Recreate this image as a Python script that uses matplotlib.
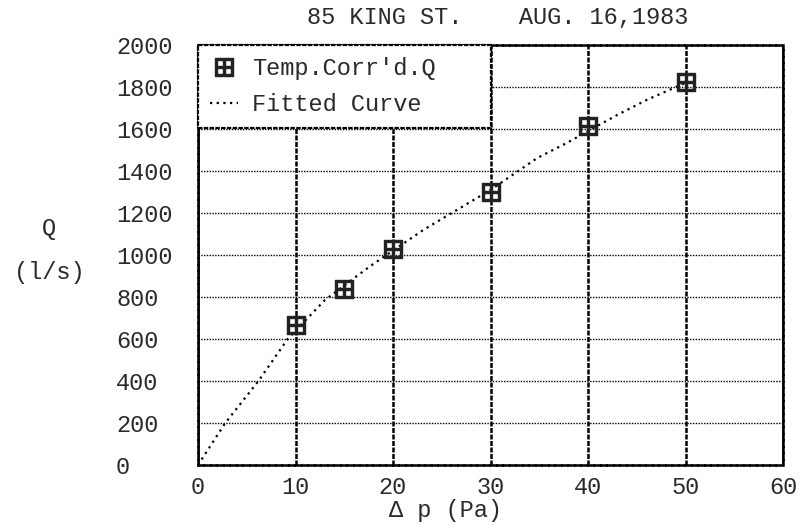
import numpy as np
import matplotlib
matplotlib.use("Agg")
import matplotlib.pyplot as plt

# data
dp_meas = [10, 15, 20, 30, 40, 50]
q_meas = [667, 840, 1030, 1300, 1612, 1824]

dp_fit = [0, 2.8, 6.2, 9.2, 13, 17.6, 23.1, 30, 34.8, 37.8, 43, 46, 50]
q_fit = [0, 200, 400, 600, 785, 945, 1119, 1310, 1462, 1533, 1667, 1738, 1820]

x_ticks = [0, 10, 20, 30, 40, 50, 60]
y_ticks = [0, 200, 400, 600, 800, 1000, 1200, 1400, 1600, 1800, 2000]

title_txt = "85 KING ST.    AUG. 16,1983"
ink = "#2a2a2a"
fnt = "Liberation Mono"
fs = 17

plt.rcParams["font.family"] = [fnt, "DejaVu Sans Mono"]

W, H = 806, 525
fig = plt.figure(figsize=(W / 100, H / 100), dpi=100)
ax = fig.add_axes([198 / W, 1 - 465 / H, (783 - 198) / W, (465 - 45) / H])

ax.set_xlim(0, 60)
ax.set_ylim(0, 2000)
ax.set_xticks(x_ticks)
ax.set_yticks(y_ticks)
ax.set_xticklabels([str(v) for v in x_ticks], fontsize=fs, color=ink)
ax.set_yticklabels([str(v) for v in y_ticks], fontsize=fs, color=ink)
ax.tick_params(axis="x", length=0, pad=8)
ax.tick_params(axis="y", length=0, pad=59)
for lab in ax.get_yticklabels():
    lab.set_horizontalalignment("left")

# dotted printer grid, vertical lines heavier
ax.grid(axis="y", color="black", linestyle=(0, (1, 1)), linewidth=1.0)
ax.grid(axis="x", color="black", linestyle=(0, (2, 0.6)), linewidth=1.8)
ax.set_axisbelow(True)
for sp in ax.spines.values():
    sp.set_linestyle((0, (2, 0.6)))
    sp.set_linewidth(1.8)

ax.plot(dp_fit, q_fit, color="black", linestyle=(0, (1, 2)), linewidth=1.6,
        label="Fitted Curve", zorder=3)
ax.plot(dp_meas, q_meas, linestyle="none", marker=r"$\boxplus$", markersize=13,
        color="#222222", label="Temp.Corr'd.Q", zorder=4)

handles, labels = ax.get_legend_handles_labels()
leg = ax.legend(handles[::-1], labels[::-1], loc="upper left",
                bbox_to_anchor=(0, 0.8, 0.5, 0.2), mode="expand",
                borderaxespad=0, fancybox=False, framealpha=1,
                edgecolor="black", fontsize=fs, labelspacing=0.55,
                borderpad=0.5, handlelength=1.2, handletextpad=0.6)
leg.get_frame().set_linewidth(1.6)
leg.get_frame().set_linestyle((0, (2, 0.6)))
for t in leg.get_texts():
    t.set_color(ink)

fig.text(498 / W, 1 - 17 / H, title_txt, ha="center", va="center",
         fontsize=fs, color=ink)
fig.text(445 / W, 1 - 510 / H, "Δ p (Pa)", ha="center", va="center",
         fontsize=fs, color=ink)
fig.text(49 / W, 1 - 228 / H, "Q", ha="center", va="center",
         fontsize=fs, color=ink)
fig.text(49 / W, 1 - 273 / H, "(l/s)", ha="center", va="center",
         fontsize=fs, color=ink)

fig.savefig("out.png", dpi=100, facecolor="white")
